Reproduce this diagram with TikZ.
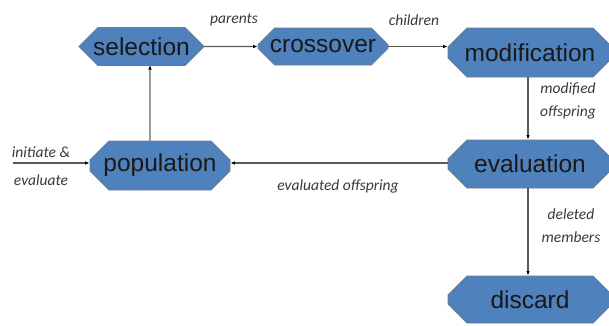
\documentclass[tikz,border=0pt]{standalone}
\usepackage{fontspec}
\setmainfont{Liberation Sans}
\newfontfamily\lblfont{Carlito}
\usetikzlibrary{shapes.misc,arrows.meta}
\definecolor{boxfill}{HTML}{4F81BD}
\definecolor{boxline}{HTML}{6B7C8F}
\definecolor{lbl}{HTML}{3A3A3A}
\tikzset{
  x=1pt,y=-1pt,
  stage/.style={chamfered rectangle, chamfered rectangle xsep=9pt, chamfered rectangle ysep=10pt,
    fill=boxfill, draw=boxline, line width=0.8pt, inner sep=0pt,
    font=\fontsize{24.5}{24.5}\selectfont, text=black!90},
  conn/.style={draw=black!65, line width=1.1pt, -{Latex[length=4.5pt,width=3.5pt,black]}},
  lab/.style={font=\lblfont\itshape\fontsize{15.5}{23}\selectfont, text=lbl, align=center},
}
\begin{document}
\begin{tikzpicture}
\useasboundingbox (0,0) rectangle (609,325);
\fill[white] (0,0) rectangle (609,325);
\node[stage, minimum width=125pt, minimum height=37pt] (sel) at (141.5,46.5) {selection};
\node[stage, minimum width=130pt, minimum height=37pt] (cro) at (323,46.5) {crossover};
\node[stage, minimum width=164pt, minimum height=49pt] (mod) at (530,52.5) {modification};
\node[stage, minimum width=140pt, minimum height=49pt] (pop) at (160,165.5) {population};
\node[stage, minimum width=164pt, minimum height=48pt] (eva) at (530,164) {evaluation};
\node[stage, minimum width=164pt, minimum height=47pt] (dis) at (530,299.5) {discard};
\coordinate (start) at (13,163);
\coordinate (popTop) at (150,141);
\coordinate (selBot) at (150,65);
\draw[conn] (sel) -- (cro);
\draw[conn] (cro.east) -- (mod.west |- cro.east);
\draw[conn] (mod.south -| 528,0) -- (eva.north -| 528,0);
\draw[conn] (eva.west |- 0,163) -- (pop.east |- 0,163);
\draw[conn] (eva.south -| 528,0) -- (dis.north -| 528,0);
\draw[conn] (start) -- (pop.west |- start);
\draw[conn, draw=black!40, line width=1.5pt] (popTop) -- (selBot);
\node[lab] (l1) at (234,20) {parents};
\node[lab] (l2) at (414,20) {children};
\node[lab] (l3) at (568,101) {modified\\offspring};
\node[lab] (l4) at (338,186) {evaluated offspring};
\node[lab] (l5) at (571,226) {deleted\\members};
\node[lab, font=\lblfont\itshape\fontsize{15.5}{28}\selectfont] (l6) at (41,166) {initiate \&\\evaluate};
\end{tikzpicture}
\end{document}
